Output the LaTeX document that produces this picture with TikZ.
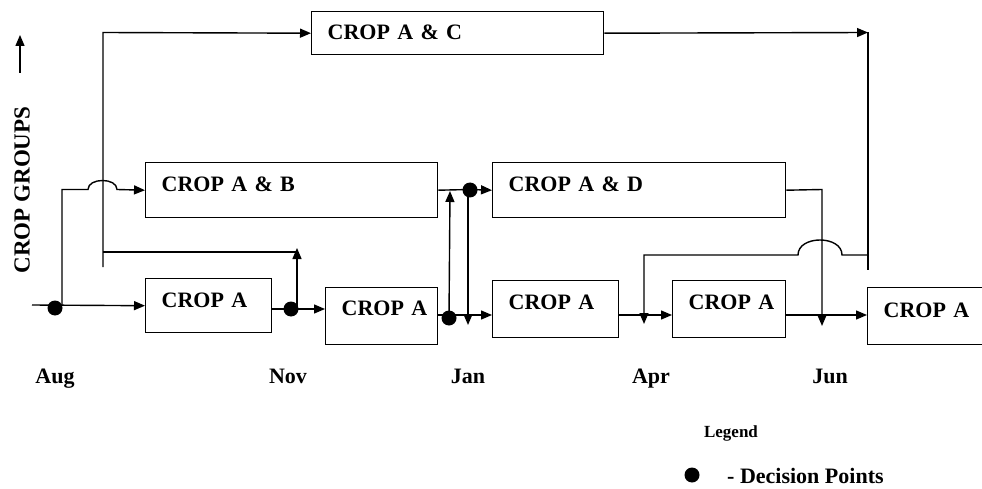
\documentclass[tikz,border=0pt]{standalone}
\usepackage{fontspec}
\setmainfont{Liberation Serif}
\usetikzlibrary{arrows.meta}
\begin{document}
\begin{tikzpicture}[x=1pt,y=-1pt,
  ln/.style={line width=1.4pt},
  arr/.style={line width=1.4pt,-{Triangle[length=11pt,width=9pt]}},
  box/.style={draw,line width=1.4pt,anchor=north west,align=left,inner xsep=16pt,inner ysep=0pt,
    font=\fontsize{22}{24}\bfseries\selectfont,text height=15pt,text depth=12pt},
  dec/.style={circle,fill,inner sep=0pt,minimum size=15pt},
  lab/.style={font=\fontsize{22}{24}\bfseries\selectfont,anchor=base}]
\useasboundingbox (0,0) rectangle (982,489);

% boxes
\node[box,text width=260pt,minimum height=43pt,text depth=2pt] (ac) at (311,11) {\mbox{CROP A \& C}};
\node[box,text width=260pt,minimum height=55pt] (ab) at (145,162) {\mbox{CROP A \& B}};
\node[box,text width=261pt,minimum height=55pt] (ad) at (492,162) {\mbox{CROP A \& D}};
\node[box,text width=94pt,minimum height=54pt] (a1) at (145,278) {\mbox{CROP A}};
\node[box,text width=80pt,minimum height=57pt,text depth=16pt] (a2) at (325,287) {\mbox{CROP A}};
\node[box,text width=94pt,minimum height=57pt,text depth=14pt] (a3) at (492,280) {\mbox{CROP A}};
\node[box,text width=81pt,minimum height=57pt,text depth=14pt] (a4) at (672,280) {\mbox{CROP A}};
\node[box,text width=91pt,minimum height=57pt] (a5) at (867,287) {\mbox{CROP A}};

% junction coordinates
\coordinate (start) at (32,305);
\coordinate (aug) at (62,305);
\coordinate (nov) at (291,309);
\coordinate (jan) at (449,315);
\coordinate (apr) at (644,315);
\coordinate (jun) at (822,315);
\coordinate (ab1) at (470,189.5);
\coordinate (topl) at (103,32.5);
\coordinate (topr) at (868,32.5);
\coordinate (stub1) at (103,267);
\coordinate (stub2) at (868,270);

% decision points
\node[dec] (d1) at (55,308) {};
\node[dec] (d2) at (291,309) {};
\node[dec] (d3) at (449,318) {};
\node[dec] (d4) at (470,190) {};

% main flow
\draw[arr] (start) -- (a1.west);
\draw[arr] (a1.east |- nov) -- (a2.west |- nov);
\draw[arr] (a2.east |- jan) -- (a3.west |- jan);
\draw[arr] (a3.east |- apr) -- (a4.west |- apr);
\draw[arr] (a4.east |- jun) -- (a5.west |- jun);

% Aug -> A&B (hop over x=103)
\draw[arr] (aug) -- (62,189.5) -- (88,189.5) .. controls (88,177.5) and (117,177.5) .. (117,189.5) -- (ab.west);

% Nov -> A&C
\draw[arr] (297,309) -- (297,248);
\draw[ln] (297,252) -- (103,252);
\draw[arr] (stub1) -- (topl) -- (ac.west);
\draw[arr] (ac.east) -- (topr);
\draw[ln] (topr) -- (stub2);

% Jan
\draw[arr] (d3.center) -- (450,191);
\draw[ln] (ab.east) -- (ab1);
\draw[arr] (ab1) -- (ad.west);
\draw[arr] (468,190) -- (468,325);

% A&C return -> Apr (hop over x=822)
\draw[arr] (868,255) -- (842,255) .. controls (842,235) and (798,235) .. (798,255) -- (644,255) -- (644,324);

% A&D -> Jun
\draw[arr] (ad.east) -- (822,189.5) -- (822,326);

% axis label
\node[rotate=90,font=\fontsize{23}{25}\bfseries\selectfont] (cg) at (22,190) {CROP GROUPS};
\coordinate (ya) at (20,73);
\coordinate (yb) at (20,35);
\draw[arr] (ya) -- (yb);

% months
\node[lab] (mAug) at (55,383) {Aug};
\node[lab] (mNov) at (288,383) {Nov};
\node[lab] (mJan) at (468,383) {Jan};
\node[lab] (mApr) at (651,383) {Apr};
\node[lab] (mJun) at (830,383) {Jun};

% legend
\node[font=\fontsize{17}{19}\bfseries\selectfont,anchor=base] (leg) at (731,437) {Legend};
\node[dec] (ld) at (692,475) {};
\node[font=\fontsize{22}{24}\bfseries\selectfont,anchor=base west,inner sep=0pt] (ldt) at (727,483) {- Decision Points};
\end{tikzpicture}
\end{document}
